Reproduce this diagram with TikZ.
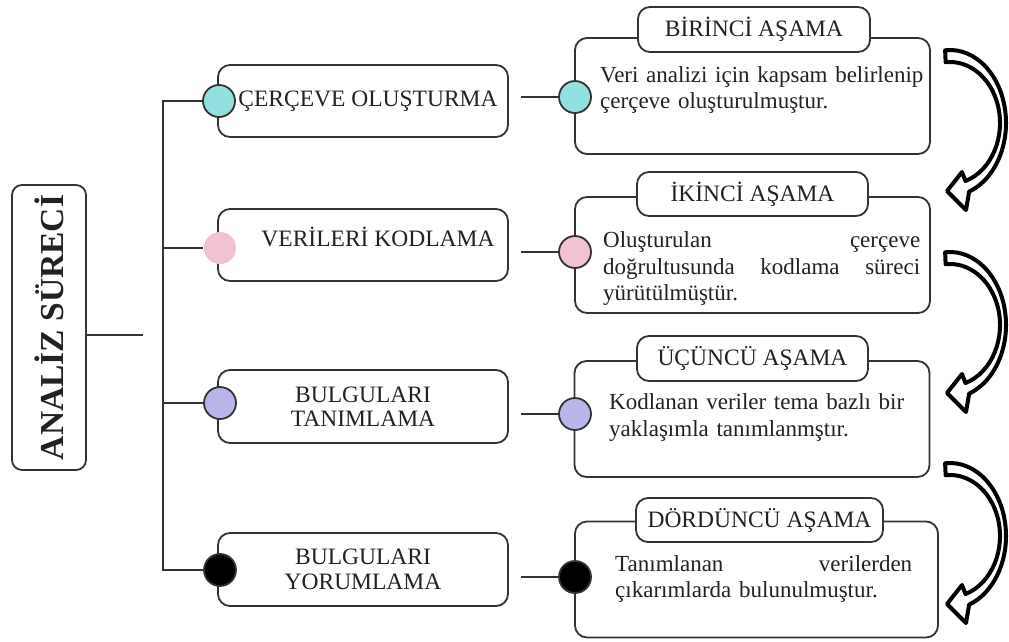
\documentclass[tikz,border=0pt]{standalone}
\usepackage{fontspec}
\setmainfont{Liberation Serif}
\usepackage{xcolor}
\usepackage{tikz}

\definecolor{dotteal}{HTML}{93E0E0}
\definecolor{dotpink}{HTML}{F0C2D3}
\definecolor{dotlilac}{HTML}{B9B5EA}
\definecolor{inkgray}{HTML}{333333}
\definecolor{txtgray}{HTML}{222222}

\tikzset{
  box/.style={draw=inkgray, line width=1.8pt, rounded corners=12pt, fill=white, inner sep=0pt},
  corebox/.style={box, rounded corners=10pt, minimum width=74pt, minimum height=285pt},
  lbox/.style={box, minimum width=290pt, minimum height=72pt, align=center,
    text=txtgray, font=\fontsize{23.5}{24.5}\selectfont},
  stagebox/.style={box, minimum width=355pt, minimum height=116pt},
  stagetitle/.style={box, minimum height=45pt, text=txtgray, font=\fontsize{23.5}{26}\selectfont},
  stagetext/.style={anchor=west, inner sep=0pt, align=left, text=txtgray,
    font=\fontsize{23}{26.5}\selectfont},
  labeltext/.style={inner sep=0pt, text=txtgray, font=\fontsize{23.5}{24.5}\selectfont},
  dot/.style={circle, minimum size=32pt, inner sep=0pt, draw=inkgray, line width=1.8pt},
  wire/.style={draw=inkgray, line width=1.6pt},
  arrowline/.style={draw=black, line width=4pt, fill=white, line join=round},
  bentarrow/.pic={
    \draw[arrowline] (-95:56 and 73) arc[start angle=-95, end angle=70, x radius=56, y radius=73]
      -- (16,87) -- (-3,68) -- (12,49) -- (72:50 and 61)
      arc[start angle=72, end angle=-95, x radius=50, y radius=61] -- cycle;
  }
}

\begin{document}
\begin{tikzpicture}[x=1pt, y=-1pt]
  \useasboundingbox (0,0) rectangle (1009,641);

  \node[corebox] (core) at (49,327.5) {};
  \node[rotate=90, inner sep=0pt, text=txtgray, font=\fontsize{33.5}{36}\selectfont\bfseries] (coretext) at (49,327.5) {ANALİZ SÜRECİ};
  \coordinate (hub) at (143,335);
  \coordinate (trunk) at (163,0);
  \draw[wire] (core.east |- hub) -- (hub);

  \node[lbox] (cerceve) at (363,101) {\hspace*{10pt}ÇERÇEVE OLUŞTURMA};
  \node[lbox] (kodlama) at (363,245) {};
  \node[labeltext] (kodtext) at (378,237) {VERİLERİ KODLAMA};
  \node[lbox, minimum height=73pt] (tanim) at (363,406.5) {BULGULARI\\TANIMLAMA};
  \node[lbox, minimum height=73pt] (yorum) at (363,569.5) {BULGULARI\\YORUMLAMA};

  \node[dot, fill=dotteal] (ldot1) at (219,101) {};
  \node[dot, draw=none, fill=dotpink] (ldot2) at (220,248) {};
  \node[dot, fill=dotlilac] (ldot3) at (220,403) {};
  \node[dot, fill=black] (ldot4) at (220,570) {};

  \draw[wire] (ldot1.west) -- (ldot1.west -| trunk) |- (ldot4.west);
  \draw[wire] (ldot2.west -| trunk) -- (ldot2.west);
  \draw[wire] (ldot3.west -| trunk) -- (ldot3.west);

  \node[stagebox] (stage1) at (752.5,96) {};
  \node[stagebox] (stage2) at (752.5,255) {};
  \node[stagebox] (stage3) at (752,419) {};
  \node[stagebox, minimum width=363pt] (stage4) at (756.5,579.5) {};

  \node[stagetitle, minimum width=232pt] (title1) at (754,29.5) {BİRİNCİ AŞAMA};
  \node[stagetitle, minimum width=231pt, minimum height=44pt] (title2) at (752.5,194) {İKİNCİ AŞAMA};
  \node[stagetitle, minimum width=231pt] (title3) at (752.5,358.5) {ÜÇÜNCÜ AŞAMA};
  \node[stagetitle, minimum width=247pt, minimum height=44pt] (title4) at (759.5,520) {DÖRDÜNCÜ AŞAMA};

  \node[stagetext, text width=325pt] (body1) at (600,90) {Veri analizi için kapsam belirlenip\\çerçeve oluşturulmuştur.};
  \node[stagetext, text width=317pt] (body2) at (603,268.5) {Oluşturulan\hfill çerçeve\\doğrultusunda\hfill kodlama\hfill süreci\\yürütülmüştür.};
  \node[stagetext, text width=310pt] (body3) at (609,417.5) {Kodlanan veriler tema bazlı bir\\yaklaşımla tanımlanmştır.};
  \node[stagetext, text width=297pt] (body4) at (615,579) {Tanımlanan\hfill verilerden\\çıkarımlarda bulunulmuştur.};

  \node[dot, fill=dotteal] (rdot1) at (575,97) {};
  \node[dot, fill=dotpink] (rdot2) at (575,252) {};
  \node[dot, fill=dotlilac] (rdot3) at (575,414) {};
  \node[dot, fill=black] (rdot4) at (575,577) {};

  \draw[wire, shorten <=12pt] (cerceve.east |- rdot1) -- (rdot1.west);
  \draw[wire, shorten <=12pt] (kodlama.east |- rdot2) -- (rdot2.west);
  \draw[wire, shorten <=12pt] (tanim.east |- rdot3) -- (rdot3.west);
  \draw[wire, shorten <=12pt] (yorum.east |- rdot4) -- (rdot4.west);

  \pic at (950,123) {bentarrow};
  \pic at (950,325) {bentarrow};
  \pic at (950,536) {bentarrow};
\end{tikzpicture}
\end{document}
